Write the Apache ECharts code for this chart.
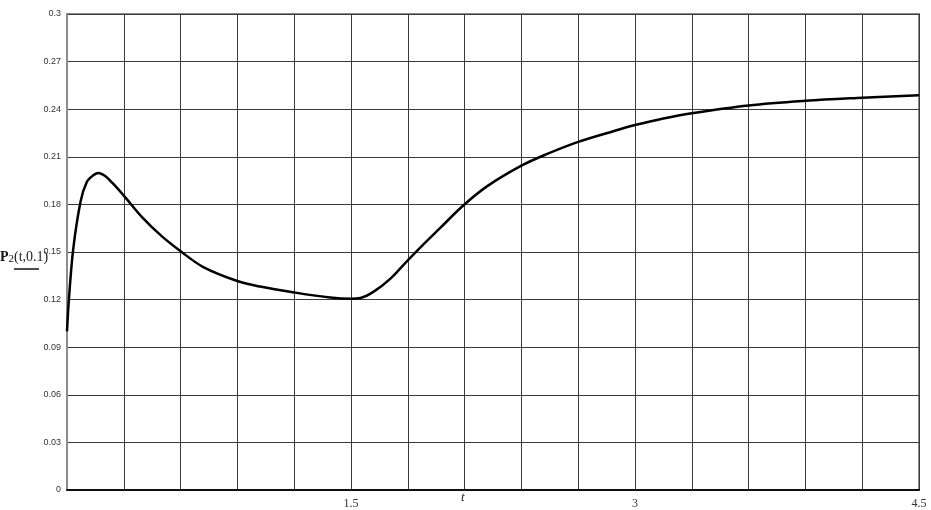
<!DOCTYPE html>
<html>
<head>
<meta charset="utf-8">
<script src="https://cdn.jsdelivr.net/npm/echarts@6/dist/echarts.min.js"></script>
<style>
  html, body { margin: 0; padding: 0; background: #fff; }
  #chart { width: 931px; height: 510px; }
</style>
</head>
<body>
<div id="chart"></div>
<script>
// curve P2(t, 0.1)
const tVals = [0, 0.01, 0.033, 0.072, 0.104, 0.135, 0.165, 0.2, 0.24, 0.3, 0.4, 0.5, 0.6, 0.72, 0.9,
  1.02, 1.2, 1.39, 1.5, 1.55, 1.62, 1.71, 1.79, 1.88, 1.97, 2.09, 2.22, 2.4, 2.53, 2.7, 2.89, 3.0,
  3.15, 3.3, 3.6, 3.9, 4.2, 4.5]
const pVals = [0.100, 0.120, 0.152, 0.182, 0.194, 0.198, 0.1998, 0.198, 0.1935, 0.1855, 0.1715, 0.160,
  0.1505, 0.1405, 0.1317, 0.1282, 0.1245, 0.1213, 0.1205, 0.121, 0.125, 0.1334, 0.1435, 0.1545, 0.1650,
  0.1790, 0.1915, 0.2044, 0.2115, 0.2194, 0.2263, 0.2300, 0.2342, 0.2375, 0.2424, 0.2453,
  0.2472, 0.2488]
const xLabels = [1.5, 3, 4.5]   // only these x ticks carry a label
const yMax = 0.3
const yStep = 0.03

const chart = echarts.init(document.getElementById('chart'))

const gridLine = { show: true, lineStyle: { color: '#3a3a3a', width: 1 } }

chart.setOption({
  animation: false,
  grid: {
    left: 67, top: 14, width: 852, height: 479,
    show: true, borderColor: '#8c8c8c', borderWidth: 2
  },
  xAxis: {
    type: 'value', min: 0, max: 4.5, interval: 0.3,
    axisLine: { show: true, lineStyle: { color: '#111', width: 2 } },
    axisTick: { show: false },
    splitLine: gridLine,
    axisLabel: {
      margin: 8,
      fontFamily: 'Liberation Serif', fontSize: 12, color: '#333',
      formatter: v => xLabels.some(l => Math.abs(l - v) < 1e-6) ? String(Math.round(v * 10) / 10) : ''
    }
  },
  yAxis: {
    type: 'value', min: 0, max: yMax, interval: yStep,
    axisLine: { show: true, lineStyle: { color: '#8c8c8c', width: 2 } },
    axisTick: { show: false },
    splitLine: gridLine,
    axisLabel: {
      margin: 6,
      fontFamily: 'Liberation Sans', fontSize: 9, color: '#333',
      formatter: v => String(Math.round(v * 100) / 100)
    }
  },
  graphic: [
    {
      type: 'text', left: 0, top: 250,
      style: {
        text: '{p|P}{s|2}{a|(t,0.1)}',
        rich: {
          p: { fontFamily: 'Liberation Serif', fontWeight: 'bold', fontSize: 14, fill: '#111' },
          s: { fontFamily: 'Liberation Serif', fontSize: 11, fill: '#111', padding: [4, 0, 0, 0] },
          a: { fontFamily: 'Liberation Serif', fontSize: 14, fill: '#222' }
        }
      }
    },
    {
      type: 'line', shape: { x1: 14, y1: 269, x2: 39, y2: 269 },
      style: { stroke: '#111', lineWidth: 1.5 }
    },
    {
      type: 'text', left: 461, top: 491,
      style: { text: 't', fontFamily: 'Liberation Serif', fontStyle: 'italic', fontSize: 13, fill: '#222' }
    }
  ],
  series: [{
    type: 'line',
    data: tVals.map((t, i) => [t, pVals[i]]),
    smooth: 0.35,
    showSymbol: false,
    lineStyle: { color: '#000', width: 2.5 }
  }]
})
</script>
</body>
</html>
